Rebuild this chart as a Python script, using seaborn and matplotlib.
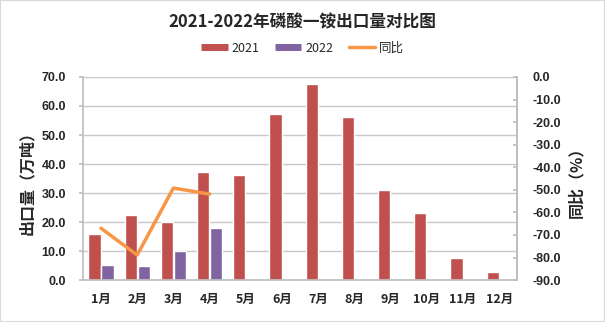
import matplotlib
matplotlib.use("Agg")
import matplotlib.pyplot as plt
import seaborn as sns
import pandas as pd
import numpy as np
from matplotlib.lines import Line2D

months = ["1月", "2月", "3月", "4月", "5月", "6月", "7月", "8月", "9月", "10月", "11月", "12月"]
v2021 = [16.0, 22.4, 20.0, 37.2, 36.2, 57.2, 67.6, 56.2, 31.0, 23.1, 7.6, 2.8]
v2022 = [5.2, 4.8, 10.0, 17.9, np.nan, np.nan, np.nan, np.nan, np.nan, np.nan, np.nan, np.nan]
yoy = [-67.0, -78.9, -49.2, -51.9]
yoy_months = months[:4]

sns.set_theme(style="white")
plt.rcParams['font.family'] = ['Noto Sans CJK SC', 'DejaVu Sans']

c21, c22, cl = "#C0504D", "#8064A2", "#F79646"

df = pd.DataFrame({
    "月份": months * 2,
    "值": v2021 + v2022,
    "年份": ["2021"] * 12 + ["2022"] * 12,
})

fig = plt.figure(figsize=(6.05, 3.22), dpi=100)
ax = fig.add_axes([0.137, 0.130, 0.718, 0.631])
sns.barplot(data=df, x="月份", y="值", hue="年份", order=months,
            palette={"2021": c21, "2022": c22}, width=0.72, gap=0.06,
            ax=ax, legend=False, saturation=1)
ax.set_ylim(0, 70)
ax.set_yticks(np.arange(0, 71, 10))
ax.set_yticklabels([f"{v:.1f}" for v in np.arange(0, 71, 10)],
                   fontfamily="Liberation Sans", fontweight="bold", fontsize=9)
ax.set_xlim(-0.5, 11.5)
ax.set_xlabel("")
ax.set_ylabel("出口量（万吨）", fontsize=11.5, fontweight="bold", labelpad=5)
ax.grid(axis="y", color="#C8C8C8", lw=1)
ax.set_axisbelow(True)
ax.spines["top"].set_visible(False)
for s in ["left", "bottom", "right"]:
    ax.spines[s].set_color("#BFBFBF")
ax.tick_params(axis="y", length=3, color="#BFBFBF", pad=9, direction="out")
ax.tick_params(axis="x", length=0, pad=9)
for t in ax.get_xticklabels():
    t.set_fontweight("bold")
    t.set_fontsize(9)

ax2 = ax.twinx()
sns.lineplot(x=yoy_months, y=yoy, ax=ax2, color=cl, lw=2.5, sort=False)
ax2.set_ylim(-90, 0)
ax2.set_yticks(np.arange(-90, 1, 10))
ax2.set_yticklabels([f"{v:.1f}" for v in np.arange(-90, 1, 10)],
                    fontfamily="Liberation Sans", fontweight="bold", fontsize=9)
ax2.set_ylabel("同比（%）", fontsize=11.5, fontweight="bold", rotation=90, labelpad=5)
ax2.tick_params(axis="y", length=3, color="#BFBFBF", direction="in", pad=11)
for s in ["top", "left", "bottom"]:
    ax2.spines[s].set_visible(False)
ax2.spines["right"].set_color("#BFBFBF")
ax2.grid(False)

fig.text(0.5, 0.93, "2021-2022年磷酸一铵出口量对比图", ha="center", va="center",
         fontsize=12, fontweight="bold")
handles = [Line2D([0], [0], color=c21, lw=5, solid_capstyle="butt"),
           Line2D([0], [0], color=c22, lw=5, solid_capstyle="butt"),
           Line2D([0], [0], color=cl, lw=2.5)]
fig.legend(handles, ["2021", "2022", "同比"], loc="center", bbox_to_anchor=(0.5, 0.85),
           ncol=3, frameon=False, fontsize=9, handlelength=2.1, columnspacing=1.25,
           handletextpad=0.3)

fig.patches.append(plt.Rectangle((0, 0), 1, 1, transform=fig.transFigure,
                                 fill=False, edgecolor="#D9D9D9", lw=1.5))
fig.savefig("out.png", dpi=100)
